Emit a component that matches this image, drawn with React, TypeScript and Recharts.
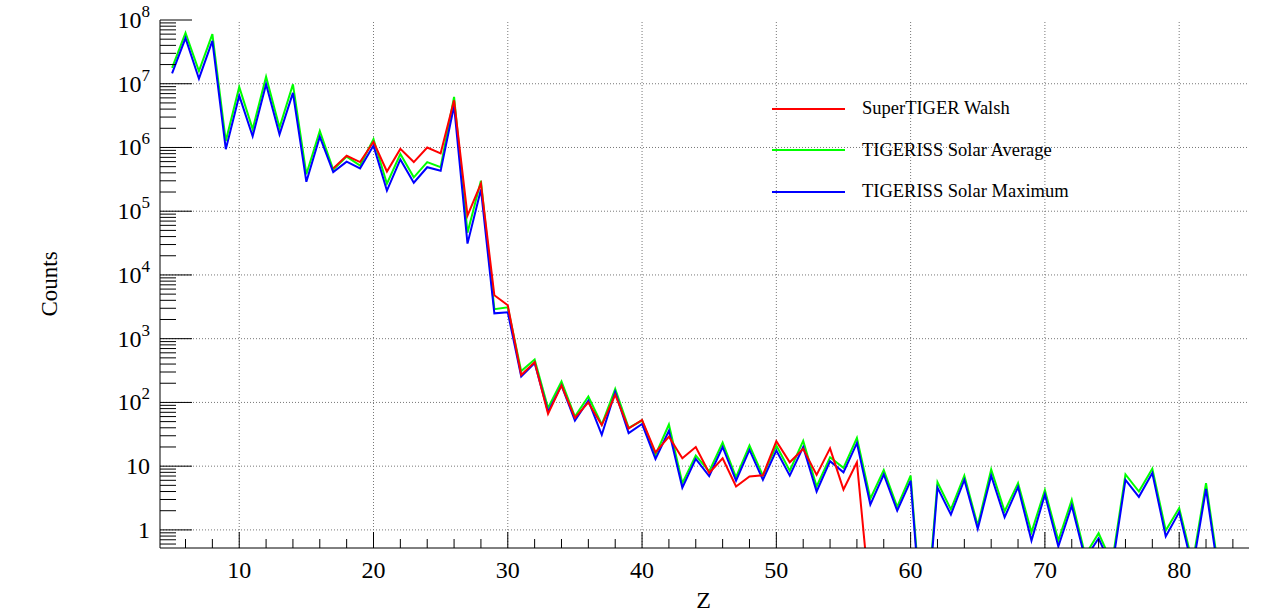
import { LineChart, Line, XAxis, YAxis, ReferenceLine, Legend } from 'recharts';

const FONT = '"Liberation Serif", "Times New Roman", Times, serif';

// charge number Z of each bin
const zValues = [
  5, 6, 7, 8, 9, 10, 11, 12, 13, 14, 15, 16, 17, 18, 19, 20, 21, 22, 23, 24,
  25, 26, 27, 28, 29, 30, 31, 32, 33, 34, 35, 36, 37, 38, 39, 40, 41, 42, 43, 44,
  45, 46, 47, 48, 49, 50, 51, 52, 53, 54, 55, 56, 57, 58, 59, 60, 61, 62, 63, 64,
  65, 66, 67, 68, 69, 70, 71, 72, 73, 74, 75, 76, 77, 78, 79, 80, 81, 82, 83,
];

// SuperTIGER Walsh (red), only Z = 17..57
const walsh = [
  null, null, null, null, null, null, null, null, null, null, null, null,
  4.7e5, 7.4e5, 5.9e5, 1.23e6, 4.2e5, 9.5e5, 5.9e5, 1.0e6,
  8.1e5, 5.5e6, 8.5e4, 2.7e5, 4.8e3, 3.35e3, 270, 430, 66, 185, 57, 100, 44, 132, 39, 53, 16.5, 29, 13.3, 20,
  7.8, 13.3, 4.8, 6.9, 7.2, 24.6, 11.5, 18.7, 7.3, 19, 4.3, 11.5, 0.07,
  null, null, null, null, null, null, null, null,
  null, null, null, null, null, null, null, null, null, null, null, null, null, null, null, null, null, null, null,
];

// TIGERISS Solar Average (green)
const solarAvg = [
  1.78e7, 6.3e7, 1.58e7, 6.0e7, 1.26e6, 8.9e6, 1.94e6, 1.29e7, 2.05e6, 9.8e6, 3.8e5, 1.82e6, 4.5e5, 7.2e5, 5.2e5, 1.35e6, 2.7e5, 7.9e5, 3.4e5, 5.9e5,
  4.9e5, 6.2e6, 4.6e4, 3.0e5, 2.9e3, 3.1e3, 310, 470, 82, 214, 60, 124, 45, 163, 40, 52, 15, 45, 5.4, 14.7,
  8.3, 23.5, 6.7, 21, 7.1, 21, 8.5, 25, 4.8, 13.8, 9.4, 27.7, 3.1, 8.7, 2.3, 7.1, 0.015, 5.6, 2.1, 7.1,
  1.17, 8.9, 1.96, 5.4, 0.92, 4.2, 0.68, 2.95, 0.4, 0.89, 0.3, 7.4, 4.0, 9.1, 0.98, 2.2, 0.3, 5.4, 0.19,
];

// TIGERISS Solar Maximum (blue)
const solarMax = [
  1.45e7, 5.2e7, 1.2e7, 4.7e7, 9.4e5, 6.5e6, 1.5e6, 9.8e6, 1.6e6, 7.2e6, 2.9e5, 1.48e6, 4.1e5, 6.0e5, 4.7e5, 1.07e6, 2.1e5, 6.5e5, 2.8e5, 4.9e5,
  4.3e5, 4.5e6, 3.1e4, 2.2e5, 2.5e3, 2.6e3, 255, 415, 71, 185, 52, 107, 31, 146, 33, 46, 13, 36, 4.6, 13,
  7.0, 20, 5.9, 18, 6.1, 17.6, 7.1, 20, 4.0, 12, 8, 23, 2.5, 7.4, 2.0, 5.9, 0.012, 4.6, 1.74, 6.1,
  1.04, 7.1, 1.58, 4.7, 0.68, 3.6, 0.55, 2.4, 0.35, 0.74, 0.25, 6.1, 3.3, 7.8, 0.79, 1.9, 0.25, 4.4, 0.16,
];

const xMajorTicks = [10, 20, 30, 40, 50, 60, 70, 80];
const xTicks = [6, 8, 10, 12, 14, 16, 18, 20, 22, 24, 26, 28, 30, 32, 34, 36, 38, 40, 42, 44, 46, 48, 50, 52, 54, 56, 58, 60, 62, 64, 66, 68, 70, 72, 74, 76, 78, 80, 82, 84];
const yMajorTicks = [1, 10, 100, 1e3, 1e4, 1e5, 1e6, 1e7, 1e8];
const yTicks = [0.6, 0.7, 0.8, 0.9].concat(
  ...yMajorTicks.map((d) => (d < 1e8 ? [1, 2, 3, 4, 5, 6, 7, 8, 9].map((m) => m * d) : [d]))
);

const series = [
  { key: 'walsh', name: 'SuperTIGER Walsh', color: '#ff0000' },
  { key: 'solarAvg', name: 'TIGERISS Solar Average', color: '#00ff00' },
  { key: 'solarMax', name: 'TIGERISS Solar Maximum', color: '#0000ff' },
];

const data = zValues.map((z, i) => ({ z, walsh: walsh[i], solarAvg: solarAvg[i], solarMax: solarMax[i] }));

const isMajorY = (v: number) => yMajorTicks.some((m) => Math.abs(v - m) < m * 1e-6);

function BottomTick({ x, y, payload }: any) {
  const major = payload.value % 10 === 0;
  return (
    <g>
      <line x1={x} x2={x} y1={y} y2={y - (major ? 16 : 9)} stroke="#000" />
      {major && (
        <text x={x} y={y + 30} textAnchor="middle" fontSize={24} fontFamily={FONT} fill="#000">
          {payload.value}
        </text>
      )}
    </g>
  );
}

function TopTick({ x, y, payload }: any) {
  const major = payload.value % 10 === 0;
  return <line x1={x} x2={x} y1={y} y2={y + (major ? 16 : 9)} stroke="#000" />;
}

function LeftTick({ x, y, payload }: any) {
  const v = payload.value;
  const major = isMajorY(v);
  const exp = Math.round(Math.log10(v));
  return (
    <g>
      <line x1={x} x2={x + (major ? 32 : 16)} y1={y} y2={y} stroke="#000" />
      {major && (
        <text x={x - 10} y={y + 8} textAnchor="end" fontSize={24} fontFamily={FONT} fill="#000">
          {exp === 0 ? '1' : exp === 1 ? '10' : (
            <>
              10<tspan dy={-11} fontSize={17}>{exp}</tspan>
            </>
          )}
        </text>
      )}
    </g>
  );
}

function RightTick({ x, y, payload }: any) {
  const major = isMajorY(payload.value);
  return <line x1={x} x2={x - (major ? 32 : 16)} y1={y} y2={y} stroke="#000" />;
}

function CountsLabel({ viewBox }: any) {
  const cx = 49;
  const cy = viewBox.y + viewBox.height / 2;
  return (
    <text x={cx} y={cy} transform={`rotate(-90, ${cx}, ${cy})`} textAnchor="middle" dominantBaseline="central" fontSize={23} fontFamily={FONT} fill="#000">
      Counts
    </text>
  );
}

function ZLabel({ viewBox }: any) {
  const cx = viewBox.x + viewBox.width / 2 - 1;
  return (
    <text x={cx} y={608} textAnchor="middle" fontSize={24} fontFamily={FONT} fill="#000">
      Z
    </text>
  );
}

function LegendBox() {
  return (
    <div style={{ fontFamily: FONT }}>
      {series.map((s) => (
        <div key={s.key} style={{ display: 'flex', alignItems: 'center', height: 41.5 }}>
          <div style={{ width: 73, height: 2, background: s.color, marginRight: 17 }} />
          <span style={{ fontSize: 18.5, color: '#000', whiteSpace: 'nowrap' }}>{s.name}</span>
        </div>
      ))}
    </div>
  );
}

export default function App() {
  return (
    <div style={{ position: 'absolute', left: 0, top: 0, width: 1272, height: 613, background: '#fff' }}>
      <LineChart width={1272} height={613} data={data} margin={{ top: 20, right: 23, bottom: 0, left: 0 }}>
        <XAxis
          xAxisId="bottom"
          dataKey="z"
          type="number"
          domain={[4.1, 85.2]}
          allowDataOverflow
          ticks={xTicks}
          interval={0}
          tickSize={0}
          tickMargin={0}
          tick={<BottomTick />}
          height={65}
          axisLine={{ stroke: '#000' }}
          label={<ZLabel />}
        />
        <XAxis
          xAxisId="top"
          orientation="top"
          dataKey="z"
          type="number"
          domain={[4.1, 85.2]}
          allowDataOverflow
          ticks={xTicks}
          interval={0}
          tickSize={0}
          tickMargin={0}
          tick={<TopTick />}
          height={0}
          axisLine={{ stroke: '#000' }}
        />
        <YAxis
          yAxisId="left"
          type="number"
          scale="log"
          domain={[0.52, 1e8]}
          allowDataOverflow
          ticks={yTicks}
          interval={0}
          tickSize={0}
          tickMargin={0}
          tick={<LeftTick />}
          width={160}
          axisLine={{ stroke: '#000' }}
          label={<CountsLabel />}
        />
        <YAxis
          yAxisId="right"
          orientation="right"
          type="number"
          scale="log"
          domain={[0.52, 1e8]}
          allowDataOverflow
          ticks={yTicks}
          interval={0}
          tickSize={0}
          tickMargin={0}
          tick={<RightTick />}
          width={0}
          axisLine={{ stroke: '#000' }}
        />
        {xMajorTicks.map((v) => (
          <ReferenceLine key={'gx' + v} x={v} xAxisId="bottom" yAxisId="left" stroke="#777" strokeDasharray="1 2" />
        ))}
        {yMajorTicks.slice(0, -1).map((v) => (
          <ReferenceLine key={'gy' + v} y={v} xAxisId="bottom" yAxisId="left" stroke="#777" strokeDasharray="1 2" />
        ))}
        <Line xAxisId="bottom" yAxisId="left" type="linear" dataKey="solarAvg" name="TIGERISS Solar Average" stroke="#00ff00" strokeWidth={2} dot={false} isAnimationActive={false} />
        <Line xAxisId="bottom" yAxisId="left" type="linear" dataKey="solarMax" name="TIGERISS Solar Maximum" stroke="#0000ff" strokeWidth={2} dot={false} isAnimationActive={false} />
        <Line xAxisId="bottom" yAxisId="left" type="linear" dataKey="walsh" name="SuperTIGER Walsh" stroke="#ff0000" strokeWidth={2} dot={false} isAnimationActive={false} />
        <Legend
          layout="vertical"
          align="center"
          verticalAlign="middle"
          content={<LegendBox />}
          wrapperStyle={{ position: 'absolute', left: 772, top: 88, width: 330, height: 130 }}
        />
      </LineChart>
    </div>
  );
}
